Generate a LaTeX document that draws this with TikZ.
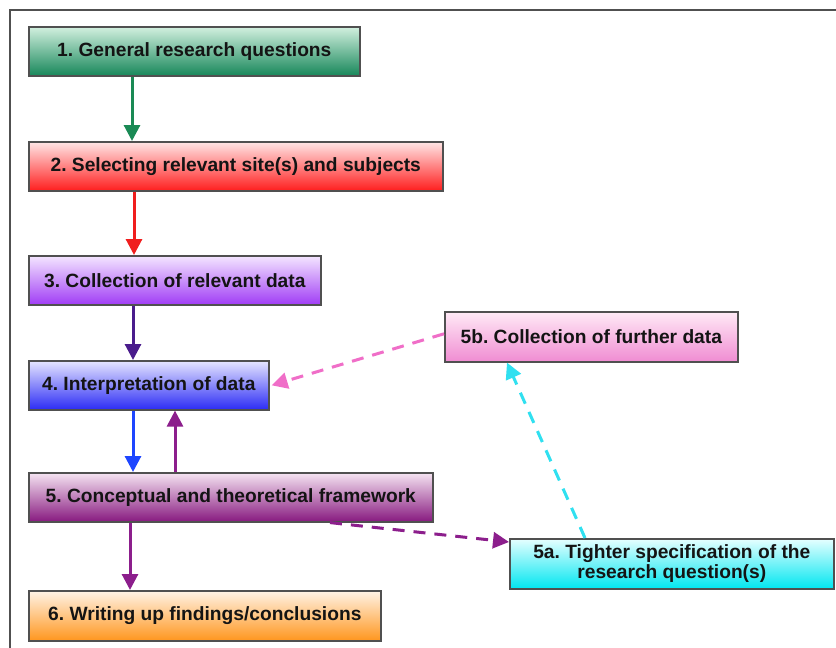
\documentclass[tikz,border=0pt]{standalone}
\usepackage{fontspec}
\setmainfont{Liberation Sans}
\usetikzlibrary{arrows.meta}
\definecolor{cGreenT}{HTML}{D2F0DF}\definecolor{cGreenB}{HTML}{17875A}
\definecolor{cRedT}{HTML}{FFE6E6}\definecolor{cRedB}{HTML}{FF1E1E}
\definecolor{cVioT}{HTML}{F4E6FF}\definecolor{cVioB}{HTML}{A03CF5}
\definecolor{cBlueT}{HTML}{E6E6FF}\definecolor{cBlueB}{HTML}{2B2BF5}
\definecolor{cPurT}{HTML}{F5E4F2}\definecolor{cPurB}{HTML}{87197F}
\definecolor{cOraT}{HTML}{FFF3E6}\definecolor{cOraB}{HTML}{FF961E}
\definecolor{cPinkT}{HTML}{FFEAF6}\definecolor{cPinkB}{HTML}{F08CD2}
\definecolor{cCyanT}{HTML}{E6FFFF}\definecolor{cCyanB}{HTML}{00E6F0}
\definecolor{aGreen}{HTML}{1A8A55}
\definecolor{aRed}{HTML}{F01E1E}
\definecolor{aIndigo}{HTML}{4A1C8C}
\definecolor{aBlue}{HTML}{1E46FF}
\definecolor{aPurple}{HTML}{8C1E8C}
\definecolor{aCyan}{HTML}{30E0F0}
\definecolor{aPink}{HTML}{F06EC8}
\definecolor{frameGray}{HTML}{505050}
\definecolor{txt}{HTML}{141414}
\tikzset{
  stepbox/.style={draw=frameGray, line width=1.6pt, rectangle, anchor=north west,
    inner sep=0pt, align=center, text=txt,
    font=\fontsize{19.2}{20}\selectfont\bfseries,
    % darker shadow edge on the right side of each box
    append after command={[draw=black!90, line width=2.2pt]
      (\tikzlastnode.north east) -- (\tikzlastnode.south east)}},
  flow/.style={line width=3pt, -{Triangle[length=16pt,width=16pt]}},
  loopflow/.style={line width=3pt, dash pattern=on 12pt off 9pt,
    -{Triangle[length=16pt,width=16pt]}}
}
\begin{document}
\frenchspacing
\begin{tikzpicture}[x=1pt,y=-1pt]
\useasboundingbox (0,0) rectangle (836,648);
\fill[white] (0,0) rectangle (836,648);
% outer frame
\draw[frameGray, line width=2.4pt] (10,648) -- (10,10) -- (836,10);

% main sequence of stages
\node[stepbox, minimum width=331pt, minimum height=49pt, top color=cGreenT, bottom color=cGreenB] (b1) at (28,26) {1. General research questions};
\node[stepbox, minimum width=414pt, minimum height=49pt, top color=cRedT, bottom color=cRedB] (b2) at (28,141) {2. Selecting relevant site(s) and subjects};
\node[stepbox, minimum width=292pt, minimum height=49pt, top color=cVioT, bottom color=cVioB] (b3) at (28,255) {3. Collection of relevant data};
\node[stepbox, minimum width=240pt, minimum height=49pt, top color=cBlueT, bottom color=cBlueB] (b4) at (28,360) {4. Interpretation of data};
\node[stepbox, minimum width=404pt, minimum height=49pt, top color=cPurT, bottom color=cPurB] (b5) at (28,472) {5. Conceptual and theoretical framework};
\node[stepbox, minimum width=352pt, minimum height=50pt, top color=cOraT, bottom color=cOraB] (b6) at (28,590) {6. Writing up findings/conclusions};

% side loop
\node[stepbox, minimum width=293pt, minimum height=50pt, top color=cPinkT, bottom color=cPinkB] (b5b) at (444,311) {5b. Collection of further data};
\node[stepbox, minimum width=324pt, minimum height=50pt, top color=cCyanT, bottom color=cCyanB] (b5a) at (509,538) {5a. Tighter specification of the\\research question(s)};

% connectors
\draw[flow, aGreen] ([xshift=104pt]b1.south west) -- ([xshift=104pt]b2.north west);
\draw[flow, aRed] ([xshift=106pt]b2.south west) -- ([xshift=106pt]b3.north west);
\draw[flow, aIndigo] ([xshift=105pt]b3.south west) -- ([xshift=105pt]b4.north west);
\draw[flow, aBlue] ([xshift=105pt]b4.south west) -- ([xshift=105pt]b5.north west);
\draw[flow, aPurple] ([xshift=147pt]b5.north west) -- ([xshift=147pt]b4.south west);
\draw[flow, aPurple] ([xshift=102pt]b5.south west) -- ([xshift=102pt]b6.north west);
\draw[loopflow, aPurple] ([xshift=302pt]b5.south west) -- ([yshift=-4pt]b5a.north west);
\draw[loopflow, aCyan] ([xshift=76pt]b5a.north west) -- ([xshift=63pt]b5b.south west);
\draw[loopflow, aPink] ([yshift=3pt]b5b.west) -- ([xshift=2pt]b4.east);
\end{tikzpicture}
\end{document}
